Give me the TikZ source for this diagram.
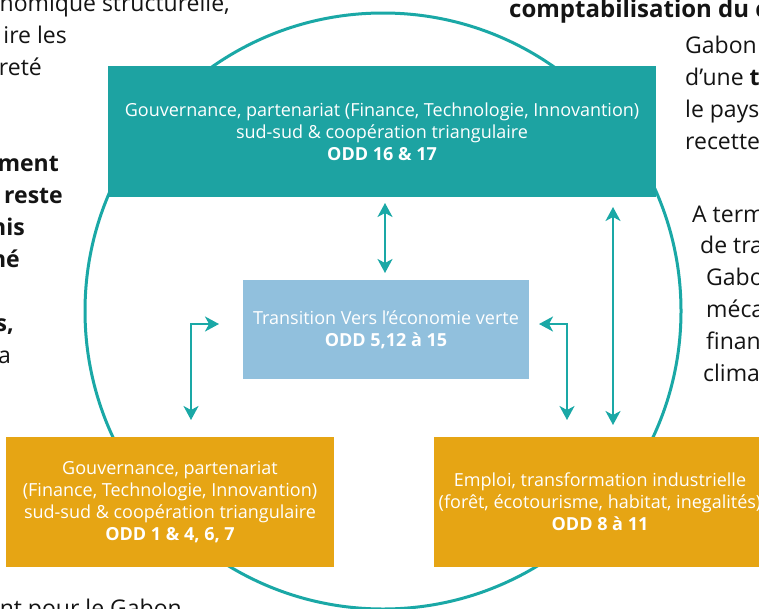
\documentclass[tikz,border=0pt]{standalone}
\usepackage{fontspec}
\setmainfont{Open Sans}
\usetikzlibrary{arrows.meta}
\definecolor{tealbox}{HTML}{1DA3A2}
\definecolor{tealline}{HTML}{1AA8A6}
\definecolor{lblue}{HTML}{91C0DD}
\definecolor{orangebox}{HTML}{E6A514}
\definecolor{bodytext}{HTML}{141414}
\begin{document}
\begin{tikzpicture}[x=1pt,y=-1pt,
  box/.style={inner sep=0pt, align=center, text=white, font=\fontsize{18}{22}\selectfont},
  bgl/.style={font=\fontsize{23}{32}\selectfont, text=bodytext, inner sep=0pt, anchor=base east},
  bgr/.style={font=\fontsize{23}{32}\selectfont, text=bodytext, inner sep=0pt, anchor=base west},
  bgbold/.style={font=\fontsize{23}{32}\selectfont\bfseries},
  tip/.tip={Stealth[length=14pt,width=15pt,inset=4pt]},
  link/.style={draw=tealline, line width=2pt, tip-tip}]
\useasboundingbox (0,0) rectangle (759,608);
\clip (0,0) rectangle (759,608);
\fill[white] (0,0) rectangle (759,608);

% background page text (cut off at the edges)
\node[bgl] (l1) at (230,11) {nomique structurelle,};
\node[bgl] (l2) at (67,43) {ire les};
\node[bgl] (l3) at (42,75) {reté};
\node[bgl,bgbold] (l4) at (59,171) {ment};
\node[bgl,bgbold] (l5) at (63,203) {reste};
\node[bgl,bgbold] (l6) at (25,235) {his};
\node[bgl,bgbold] (l7) at (20,267) {né};
\node[bgl,bgbold] (l8) at (14,331) {s,};
\node[bgl] (l9) at (11,363) {a};
\node[bgl] (l10) at (182,616) {nt pour le Gabon};

\node[bgr,font=\fontsize{24}{32}\selectfont\bfseries] (r0) at (509,17) {comptabilisation du c};
\node[bgr] (r1) at (685,53) {Gabon};
\node[bgr] (r2) at (685,85) {d’une \textbf{t}};
\node[bgr] (r3) at (685,117) {le pays};
\node[bgr] (r4) at (685,149) {recette};
\node[bgr] (r5) at (692,222) {A term};
\node[bgr] (r6) at (700,253) {de tra};
\node[bgr] (r7) at (706,285) {Gabo};
\node[bgr] (r8) at (706,317) {méca};
\node[bgr] (r9) at (706,349) {finan};
\node[bgr] (r10) at (703,381) {clima};

% circle
\draw[tealline, line width=3pt] (383,311) circle[radius=298pt];

% boxes
\node[box, fill=tealbox, minimum width=548pt, minimum height=131pt] (gov) at (382,131.5)
  {Gouvernance, partenariat (Finance, Technologie, Innovantion)\\ sud-sud \& coopération triangulaire\\ \textbf{ODD 16 \& 17}};
\node[box, fill=lblue, minimum width=286pt, minimum height=99pt] (trans) at (386,329.5)
  {Transition Vers l’économie verte\\ \textbf{ODD 5,12 à 15}};
\node[box, fill=orangebox, minimum width=328pt, minimum height=130pt] (social) at (170,502)
  {Gouvernance, partenariat\\ (Finance, Technologie, Innovantion)\\ sud-sud \& coopération triangulaire\\ \textbf{ODD 1 \& 4, 6, 7}};
\node[box, fill=orangebox, minimum width=332pt, minimum height=130pt] (emploi) at (600,502)
  {Emploi, transformation industrielle\\ (forêt, écotourisme, habitat, inegalités)\\ \textbf{ODD 8 à 11}};

% connectors
\coordinate (a1t) at (385,203);
\coordinate (a1b) at (385,273);
\draw[link] (a1t) -- (a1b);
\coordinate (a2t) at (613,207);
\coordinate (a2b) at (613,425);
\draw[link] (a2t) -- (a2b);
\coordinate (a3d) at (191,420);
\coordinate (a3r) at (219,324);
\draw[link] (a3d) |- (a3r);
\coordinate (a4l) at (539,324);
\coordinate (a4d) at (567,420);
\draw[link] (a4l) -| (a4d);
\end{tikzpicture}
\end{document}
